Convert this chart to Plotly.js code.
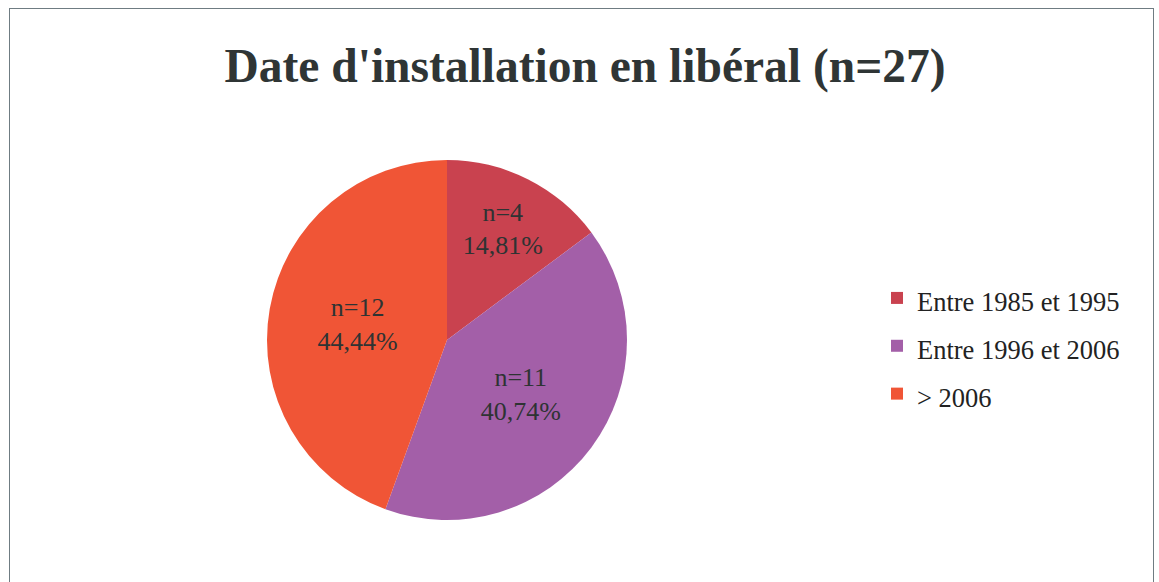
<!DOCTYPE html>
<html>
<head>
<meta charset="utf-8">
<script src="https://cdn.plot.ly/plotly-3.0.1.min.js"></script>
<style>
  html, body { margin: 0; padding: 0; background: #fff; }
  #wrap { position: relative; width: 1159px; height: 582px; overflow: hidden; }
  #frame { position: absolute; left: 9px; top: 8px; width: 1145px; height: 620px;
           border: 1.5px solid #6f7c82; box-sizing: border-box; }
  #chart { position: absolute; left: 0; top: 0; width: 1159px; height: 582px; }
</style>
</head>
<body>
<div id="wrap">
  <div id="frame"></div>
  <div id="chart"></div>
</div>
<script>
// Data
const categories = ["Entre 1985 et 1995", "Entre 1996 et 2006", "> 2006"];
const counts = [4, 11, 12];
const sliceColors = ["#C9424F", "#A35FA8", "#F05536"];
const chartTitle = "Date d'installation en libéral (n=27)";

const W = 1159, H = 582;
const cx = 447, cy = 340, r = 180;

const legendLabels = categories.map(c => '<span style="font-size:26.5px">' + c + '</span>');

const trace = {
  type: 'pie',
  labels: legendLabels,
  values: counts,
  sort: false,
  direction: 'clockwise',
  rotation: 0,
  marker: { colors: sliceColors, line: { width: 0 } },
  texttemplate: 'n=%{value}<br>%{percent:.2%}',
  textposition: 'inside',
  insidetextorientation: 'horizontal',
  insidetextfont: { family: 'Liberation Serif', size: 26, color: '#2e3333' },
  hoverinfo: 'label+value+percent',
  domain: {
    x: [(cx - r) / W, (cx + r) / W],
    y: [(H - cy - r) / H, (H - cy + r) / H]
  }
};

const layout = {
  width: W, height: H,
  margin: { l: 0, r: 0, t: 0, b: 0 },
  paper_bgcolor: 'rgba(0,0,0,0)',
  plot_bgcolor: 'rgba(0,0,0,0)',
  separators: ', ',
  title: {
    text: '<b>' + chartTitle + '</b>',
    font: { family: 'Liberation Serif', size: 47.5, color: '#2f3535' },
    x: 585 / W, xanchor: 'center',
    y: 1 - 65 / H, yref: 'container', yanchor: 'middle'
  },
  showlegend: true,
  legend: {
    x: 877 / W, xanchor: 'left',
    y: 1 - 346 / H, yanchor: 'middle',
    font: { family: 'Liberation Serif', size: 34.5, color: '#222' },
    bgcolor: 'rgba(0,0,0,0)'
  }
};

Plotly.newPlot('chart', [trace], layout, { displayModeBar: false, staticPlot: true });
</script>
</body>
</html>
